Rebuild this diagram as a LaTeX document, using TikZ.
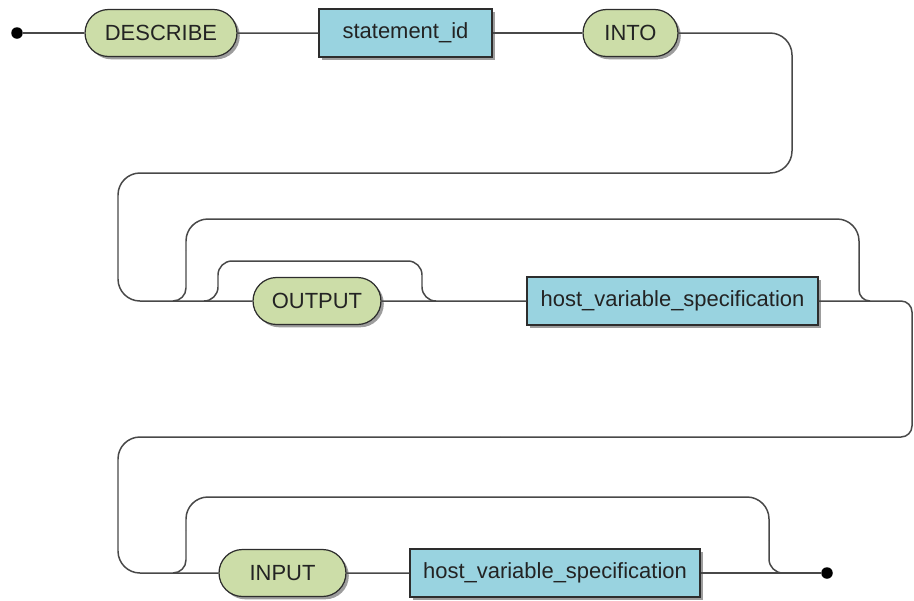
\documentclass[tikz,border=0pt]{standalone}
\usepackage{fontspec}
\setmainfont{Liberation Sans}
\usetikzlibrary{shadows,shapes.misc}
\definecolor{kwfill}{RGB}{204,221,168}
\definecolor{ntfill}{RGB}{153,211,224}
\definecolor{lncol}{RGB}{72,72,72}
\definecolor{bdcol}{RGB}{45,45,45}
\definecolor{txcol}{RGB}{35,35,35}
\begin{document}
\begin{tikzpicture}[x=0.02cm,y=-0.02cm,
  base/.style={draw=bdcol, line width=0.7pt, text=txcol, inner sep=0pt,
    font=\fontsize{12.5}{15}\selectfont,
    drop shadow={shadow xshift=1.6pt, shadow yshift=-1.6pt, fill=black!55, opacity=0.7}},
  kwnode/.style={base, rounded rectangle, fill=kwfill, minimum height=0.94cm},
  ntnode/.style={base, rectangle, fill=ntfill, minimum height=0.96cm},
  rail/.style={draw=lncol, line width=0.85pt},
  dotnode/.style={circle, fill=black, inner sep=0pt, minimum size=0.23cm}]
\useasboundingbox (0,0) rectangle (914,600);

% nodes
\node[dotnode] (start) at (17,33) {};
\node[kwnode, minimum width=3.04cm] (describe) at (161,33) {DESCRIBE};
\node[ntnode, minimum width=3.46cm] (stmt) at (405.5,33) {statement\_id};
\node[kwnode, minimum width=1.9cm] (into) at (630.5,33) {INTO};
\node[kwnode, minimum width=2.56cm] (output) at (317,301) {OUTPUT};
\node[ntnode, minimum width=5.82cm] (hvone) at (672.5,301) {host\_variable\_specification};
\node[kwnode, minimum width=2.54cm] (input) at (282.5,573) {INPUT};
\node[ntnode, minimum width=5.8cm] (hvtwo) at (555,573) {host\_variable\_specification};
\node[dotnode] (finish) at (827,573) {};

% row 1
\draw[rail] (start) -- (describe);
\draw[rail] (describe) -- (stmt);
\draw[rail] (stmt) -- (into);
\draw[rail, rounded corners=0.44cm] (into.east) -- (792,33) -- (792,173) -- (118,173) -- (118,301) -- (output.west);

% row 2 repeat loop
\draw[rail, rounded corners=0.26cm] (173,301) -- (186,301) -- (186,250);
\draw[rail, rounded corners=0.44cm] (186,250) -- (186,219) -- (859,219) -- (859,262);
\draw[rail, rounded corners=0.22cm] (859,262) -- (859,301) -- (870,301);
% row 2 optional bypass
\draw[rail, rounded corners=0.28cm] (204,301) -- (218,301) -- (218,261) -- (422,261) -- (422,301) -- (436,301);
\draw[rail] (output) -- (hvone);
\draw[rail, rounded corners=0.22cm] (hvone.east) -- (912,301) -- (912,437) -- (500,437);
\draw[rail, rounded corners=0.44cm] (500,437) -- (118,437) -- (118,573) -- (input.west);

% row 3 repeat loop
\draw[rail, rounded corners=0.26cm] (173,573) -- (186,573) -- (186,530);
\draw[rail, rounded corners=0.44cm] (186,530) -- (186,497) -- (769,497) -- (769,540);
\draw[rail, rounded corners=0.28cm] (769,540) -- (769,573) -- (783,573);
\draw[rail] (input) -- (hvtwo);
\draw[rail] (hvtwo) -- (finish);
\end{tikzpicture}
\end{document}
